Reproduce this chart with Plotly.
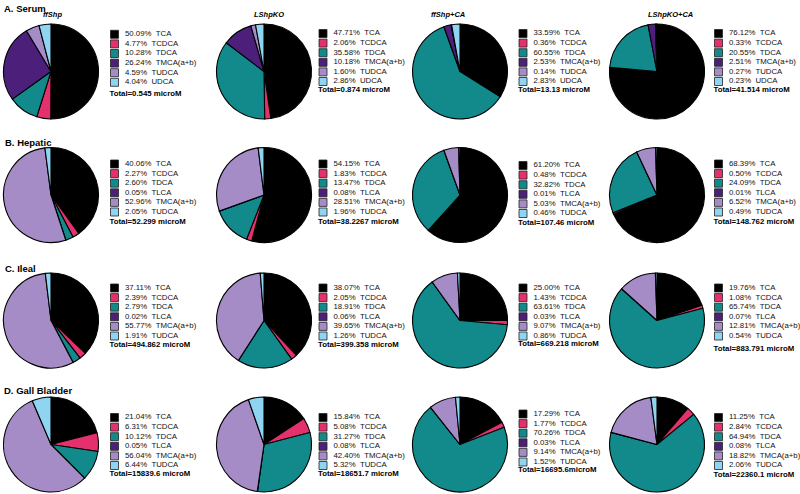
import plotly.graph_objects as go

# ---------------- data ----------------
labels_serum = ["TCA", "TCDCA", "TDCA", "TMCA(a+b)", "TUDCA", "UDCA"]
labels_tissue = ["TCA", "TCDCA", "TDCA", "TLCA", "TMCA(a+b)", "TUDCA"]

groups = ["ffShp", "LShpKO", "ffShp+CA", "LShpKO+CA"]
sections = ["A. Serum", "B. Hepatic", "C. Ileal", "D. Gall Bladder"]

serum_ffShp = [50.09, 4.77, 10.28, 26.24, 4.59, 4.04]
serum_LShpKO = [47.71, 2.06, 35.58, 10.18, 1.60, 2.86]
serum_ffShpCA = [33.59, 0.36, 60.55, 2.53, 0.14, 2.83]
serum_LShpKOCA = [76.12, 0.33, 20.55, 2.51, 0.27, 0.23]

hepatic_ffShp = [40.06, 2.27, 2.60, 0.05, 52.96, 2.05]
hepatic_LShpKO = [54.15, 1.83, 13.47, 0.08, 28.51, 1.96]
hepatic_ffShpCA = [61.20, 0.48, 32.82, 0.01, 5.03, 0.46]
hepatic_LShpKOCA = [68.39, 0.50, 24.09, 0.01, 6.52, 0.49]

ileal_ffShp = [37.11, 2.39, 2.79, 0.02, 55.77, 1.91]
ileal_LShpKO = [38.07, 2.05, 18.91, 0.06, 39.65, 1.26]
ileal_ffShpCA = [25.00, 1.43, 63.61, 0.03, 9.07, 0.86]
ileal_LShpKOCA = [19.76, 1.08, 65.74, 0.07, 12.81, 0.54]

gall_ffShp = [21.04, 6.31, 10.12, 0.05, 56.04, 6.44]
gall_LShpKO = [15.84, 5.08, 31.27, 0.08, 42.40, 5.32]
gall_ffShpCA = [17.29, 1.77, 70.26, 0.03, 9.14, 1.52]
gall_LShpKOCA = [11.25, 2.84, 64.94, 0.08, 18.82, 2.06]

totals_serum = ["Total=0.545 microM", "Total=0.874 microM", "Total=13.13 microM", "Total=41.514 microM"]
totals_hepatic = ["Total=52.299 microM", "Total=38.2267 microM", "Total=107.46 microM", "Total=148.762 microM"]
totals_ileal = ["Total=494.862 microM", "Total=399.358 microM", "Total=669.218 microM", "Total=883.791 microM"]
totals_gall = ["Total=15839.6 microM", "Total=18651.7 microM", "Total=16695.6microM", "Total=22360.1 microM"]

# ---------------- layout / style ----------------
W, H = 800, 494
palette = ["#000000", "#e5306e", "#12898a", "#4b1f7a", "#a68cc7", "#8fd5f1"]
FONT = "Liberation Sans, Arial, sans-serif"
FS = 7.8

pie_cx = [51, 264, 460, 657]
pie_cy = [71.5, 195, 320.5, 444.5]
pie_r = 47.5

box_cx = [114.5, 323, 523, 718.5]
row_step = 9.6
leg_first = [[34.3, 33.5, 33.5, 33.5],
             [164, 164, 165.5, 164],
             [288, 288, 288, 288],
             [417.5, 417.5, 414, 417.5]]
leg_total = [[94, 90, 90, 90],
             [222, 222, 223.5, 222],
             [345, 345, 344, 349],
             [474, 474, 470, 475]]

section_xy = [(2, 8), (3, 142), (3, 268), (2, 390)]
title_y = 14.5
title_cx = [52, 269, 448, 670]

rows = [
    (labels_serum, [serum_ffShp, serum_LShpKO, serum_ffShpCA, serum_LShpKOCA], totals_serum),
    (labels_tissue, [hepatic_ffShp, hepatic_LShpKO, hepatic_ffShpCA, hepatic_LShpKOCA], totals_hepatic),
    (labels_tissue, [ileal_ffShp, ileal_LShpKO, ileal_ffShpCA, ileal_LShpKOCA], totals_ileal),
    (labels_tissue, [gall_ffShp, gall_LShpKO, gall_ffShpCA, gall_LShpKOCA], totals_gall),
]

fig = go.Figure()

for ri, (labels, series, totals) in enumerate(rows):
    for ci, vals in enumerate(series):
        cx, cy = pie_cx[ci], pie_cy[ri]
        fig.add_trace(go.Pie(
            labels=labels, values=vals, sort=False, direction="clockwise", rotation=0,
            textinfo="none", showlegend=False, hoverinfo="label+percent",
            marker=dict(colors=palette, line=dict(color="#000000", width=1.1)),
            domain=dict(x=[(cx - pie_r) / W, (cx + pie_r) / W],
                        y=[1 - (cy + pie_r) / H, 1 - (cy - pie_r) / H]),
        ))
        ys = [leg_first[ri][ci] + i * row_step for i in range(len(labels))]
        fig.add_trace(go.Scatter(
            x=[box_cx[ci]] * len(labels), y=ys, mode="markers", showlegend=False,
            hoverinfo="skip",
            marker=dict(symbol="square", size=8, color=palette,
                        line=dict(color="#222222", width=0.8)),
        ))
        fig.add_trace(go.Scatter(
            x=[box_cx[ci] + 10.5] * len(labels), y=ys, mode="text", showlegend=False,
            hoverinfo="skip",
            text=[f"{v:.2f}%\u00a0\u00a0{l}" for v, l in zip(vals, labels)],
            textposition="middle right",
            textfont=dict(family=FONT, size=FS, color="#111111"),
        ))
        fig.add_trace(go.Scatter(
            x=[box_cx[ci] - 5], y=[leg_total[ri][ci]], mode="text", showlegend=False,
            hoverinfo="skip", text=[f"<b>{totals[ci]}</b>"], textposition="middle right",
            textfont=dict(family=FONT, size=FS, color="#000000"),
        ))

annotations = []
for si, name in enumerate(sections):
    x, y = section_xy[si]
    annotations.append(dict(x=x, y=y, xref="x", yref="y", text=f"<b>{name}</b>",
                            showarrow=False, xanchor="left", yanchor="middle",
                            font=dict(family=FONT, size=9.5, color="#000000")))
for ci, g in enumerate(groups):
    annotations.append(dict(x=title_cx[ci], y=title_y, xref="x", yref="y",
                            text=f"<b><i>{g}</i></b>", showarrow=False,
                            xanchor="center", yanchor="middle",
                            font=dict(family=FONT, size=7.5, color="#000000")))

fig.update_layout(
    width=W, height=H, margin=dict(l=0, r=0, t=0, b=0),
    paper_bgcolor="white", plot_bgcolor="rgba(0,0,0,0)",
    xaxis=dict(range=[0, W], visible=False, fixedrange=True, domain=[0, 1]),
    yaxis=dict(range=[H, 0], visible=False, fixedrange=True, domain=[0, 1]),
    annotations=annotations,
    showlegend=False,
)

fig.write_html("out.html", config={"displayModeBar": False},
               post_script="document.body.style.margin='0';document.body.style.padding='0';")
